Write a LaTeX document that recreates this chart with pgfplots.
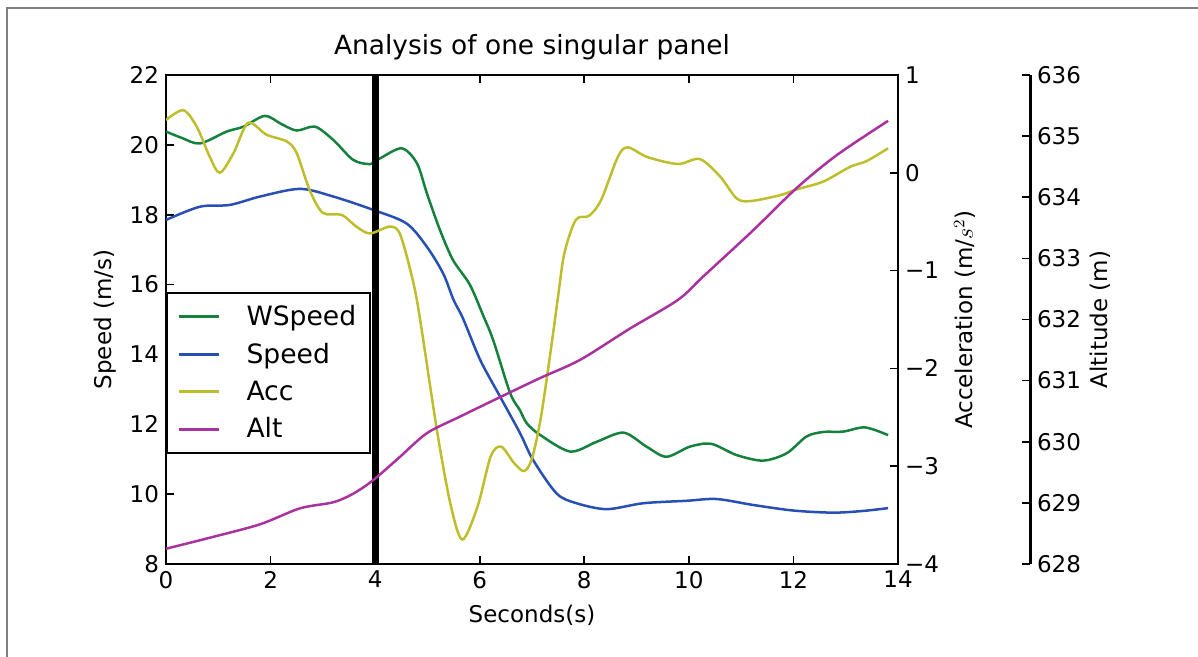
\documentclass[border=0pt]{standalone}
\usepackage{fontspec}
\setmainfont{DejaVu Sans}
\usepackage{pgfplots}
\pgfplotsset{compat=1.18}

\definecolor{cW}{RGB}{20,130,60}
\definecolor{cS}{RGB}{40,80,180}
\definecolor{cA}{RGB}{190,190,45}
\definecolor{cL}{RGB}{170,50,160}

\newcommand{\tickfont}{\fontsize{11.5}{13}\selectfont}

\pgfplotsset{
  common/.style={
    scale only axis, width=366pt, height=244.5pt,
    at={(83pt,46.5pt)}, anchor=south west,
    tick align=inside, major tick length=4pt,
    axis line style={line width=1.1pt},
    every tick/.style={black, line width=0.8pt},
    ticklabel style={font=\tickfont},
    /pgf/number format/assume math mode=true,
    label style={font=\tickfont},
  },
}

\begin{document}
\begin{tikzpicture}
\useasboundingbox (0,0) rectangle (599pt,328.5pt);
\draw[gray, line width=1pt] (3.5pt,0) -- (3.5pt,324.5pt) -- (599pt,324.5pt);

% speed axis
\begin{axis}[common,
  xmin=0, xmax=14, ymin=8, ymax=22,
  xtick={0,2,...,14}, ytick={8,10,...,22},
  ytick pos=left,
  title={Analysis of one singular panel},
  title style={font=\fontsize{13.2}{15}\selectfont, yshift=-2pt},
  xlabel={Seconds(s)}, ylabel={Speed (m/s)},
  xlabel style={at={(axis description cs:0.5,-0.104)}, anchor=center},
  ylabel style={at={(axis description cs:-0.0833,0.5)}, anchor=center},
  legend style={at={(0,0.556)}, anchor=north west, draw=black, line width=1pt,
    font=\fontsize{13.3}{15}\selectfont, row sep=3.3pt, inner xsep=5pt, inner ysep=4pt,
    fill=white},
  legend cell align=left,
  legend image code/.code={\draw[#1, line width=1.5pt] (0pt,0pt) -- (20pt,0pt);
    \path[draw=none] (0pt,0pt) -- (32pt,0pt);},
]
\addplot[cW, line width=1.25pt, smooth] coordinates {
(0,20.38) (0.3,20.2) (0.65,20.04) (1.16,20.38) (1.48,20.52) (1.89,20.83)
(2.2,20.6) (2.50,20.41) (2.85,20.52) (3.20,20.14) (3.58,19.57) (3.90,19.45)
(4.09,19.61) (4.51,19.90) (4.80,19.47) (4.99,18.61) (5.24,17.56) (5.49,16.70)
(5.81,16.0) (6.07,15.1) (6.26,14.4) (6.58,12.9) (6.77,12.4) (6.90,12.03)
(7.15,11.7) (7.73,11.22) (8.24,11.50) (8.75,11.76) (9.19,11.36) (9.57,11.07)
(10.02,11.36) (10.43,11.44) (10.91,11.12) (11.42,10.96) (11.87,11.17)
(12.25,11.65) (12.57,11.78) (12.95,11.79) (13.37,11.91) (13.81,11.69)
};
\addlegendentry{WSpeed}
\addplot[cS, line width=1.25pt, smooth] coordinates {
(0,17.85) (0.65,18.23) (1.22,18.28) (1.80,18.52) (2.56,18.74) (3.20,18.52)
(3.96,18.14) (4.60,17.75) (4.99,17.08) (5.30,16.32) (5.50,15.56) (5.68,15.03)
(6.01,13.84) (6.39,12.79) (6.77,11.75) (7.02,10.98) (7.47,10.02) (7.85,9.74)
(8.43,9.57) (9.13,9.74) (9.96,9.81) (10.53,9.86) (11.23,9.69) (12.00,9.53)
(12.76,9.47) (13.34,9.52) (13.81,9.60)
};
\addlegendentry{Speed}
\addlegendimage{cA}
\addlegendentry{Acc}
\addlegendimage{cL}
\addlegendentry{Alt}
\addplot[black, line width=3.5pt, forget plot] coordinates {(4,8) (4,22)};
\end{axis}

% acceleration axis
\begin{axis}[common,
  xmin=0, xmax=14, ymin=-4, ymax=1,
  hide x axis, axis y line*=right,
  ytick={-4,-3,...,1}, yticklabels={−4,−3,−2,−1,0,1},
  ylabel={Acceleration (m/$s^2$)},
  ylabel style={at={(axis description cs:1.0915,0.5)}, anchor=center, rotate=0},
]
\addplot[cA, line width=1.25pt, smooth] coordinates {
(0,0.54) (0.33,0.64) (0.59,0.47) (0.84,0.16) (1.03,0.0) (1.29,0.20) (1.57,0.51)
(1.92,0.39) (2.31,0.32) (2.50,0.20) (2.75,-0.18) (3.00,-0.41) (3.36,-0.43)
(3.64,-0.55) (3.90,-0.62) (4.28,-0.55) (4.47,-0.62) (4.67,-0.99) (4.83,-1.4)
(5.19,-2.66) (5.45,-3.41) (5.67,-3.75) (5.96,-3.41) (6.21,-2.90) (6.41,-2.80)
(6.66,-2.97) (6.85,-3.05) (7.0,-2.92) (7.17,-2.5) (7.36,-1.81) (7.49,-1.3)
(7.62,-0.82) (7.84,-0.48) (8.09,-0.44) (8.32,-0.28) (8.64,0.16) (8.83,0.26)
(9.21,0.16) (9.79,0.09) (10.21,0.14) (10.60,-0.04) (10.91,-0.26) (11.17,-0.29)
(11.74,-0.23) (12.06,-0.17) (12.57,-0.09) (13.08,0.06) (13.40,0.12) (13.81,0.25)
};
\end{axis}

% altitude axis, spine offset to the right
\begin{axis}[common, width=432pt,
  xmin=0, xmax=16.524, ymin=628, ymax=636,
  hide x axis, axis y line*=right,
  axis line style={line width=1.5pt},
  ytick={628,629,...,636},
  ylabel={Altitude (m)},
  ylabel style={at={(axis description cs:1.081,0.5)}, anchor=center},
]
\addplot[cL, line width=1.25pt, smooth] coordinates {
(0,628.25) (0.84,628.43) (1.80,628.65) (2.56,628.91) (3.20,629.01) (3.58,629.15)
(3.96,629.37) (4.47,629.75) (4.99,630.14) (5.62,630.41) (6.39,630.73) (7.15,631.04)
(7.92,631.34) (8.87,631.85) (9.79,632.32) (10.27,632.70) (11.23,633.46)
(12.06,634.15) (12.83,634.69) (13.81,635.25)
};
\end{axis}
\end{tikzpicture}
\end{document}
